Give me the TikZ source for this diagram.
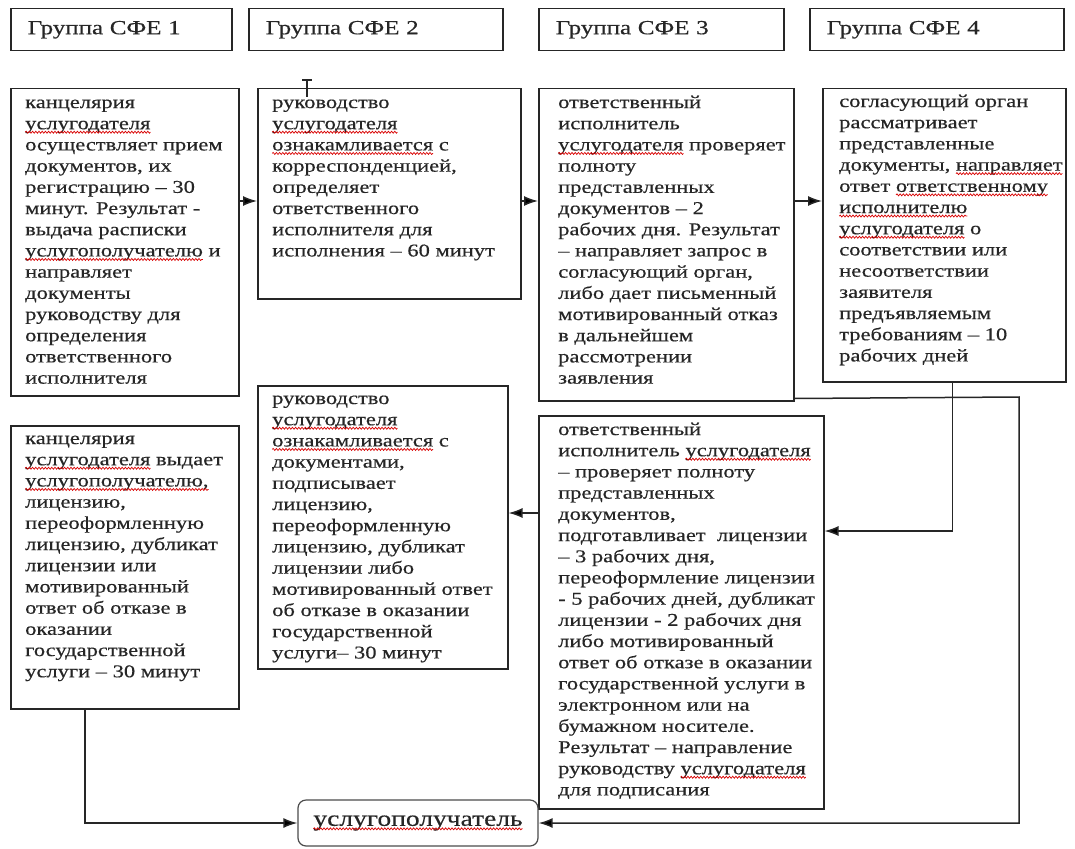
\documentclass[tikz,border=0pt]{standalone}
\usepackage{fontspec}
\setmainfont{Liberation Serif}[FakeStretch=1.25,FakeBold=0.4]
\usetikzlibrary{arrows.meta,calc,decorations.pathmorphing}
\newcommand\sperr[1]{\tikz[baseline=(w.base),sharp corners]{\node[inner sep=0pt,outer sep=0pt,minimum width=0pt,minimum height=0pt,anchor=base,align=left,draw=none,execute at begin node={}] (w) {#1};
  \draw[overlay,sharp corners,red!85!black,line width=0.7pt,decorate,decoration={snake,amplitude=1pt,segment length=3.2pt}] ([yshift=-3pt]w.base west) -- ([yshift=-3pt]w.base east);}}
\begin{document}
\begin{tikzpicture}[x=1pt,y=-1pt,
  box/.style={draw=black!85,line width=1.5pt,anchor=north west,inner sep=0pt},
  hdr/.style={box,align=left,inner xsep=17pt,inner ysep=0pt,font=\fontsize{20pt}{24pt}\selectfont,text=black!85},
  txt/.style={anchor=north west,inner sep=0pt,align=left,font=\fontsize{18pt}{21.2pt}\selectfont,text=black!85},
  arr/.style={draw=black!85,line width=1.5pt,-{Latex[length=14pt,width=10pt]}}]
\fill[white] (0,0) rectangle (1075,848);
\useasboundingbox (0,0) rectangle (1075,848);
% headers
\node[hdr,text width=187pt,minimum height=42pt] (h1) at (10,8) {Группа СФЕ 1};
\node[hdr,text width=220pt,minimum height=42pt] (h2) at (248,8) {Группа СФЕ 2};
\node[hdr,text width=211pt,minimum height=42pt] (h3) at (538,8) {Группа СФЕ 3};
\node[hdr,text width=220pt,minimum height=42pt] (h4) at (809,8) {Группа СФЕ 4};
% row 1 boxes
\node[box,minimum width=228pt,minimum height=307pt] (A) at (10,88) {};
\node[box,minimum width=263pt,minimum height=210pt] (B) at (257,88) {};
\node[box,minimum width=255pt,minimum height=312pt] (C) at (538,88) {};
\node[box,minimum width=243pt,minimum height=293pt] (D) at (822,88) {};
% row 2 boxes
\node[box,minimum width=228pt,minimum height=283pt] (E) at (10,425) {};
\node[box,minimum width=250pt,minimum height=283pt] (F) at (257,385) {};
\node[box,minimum width=285pt,minimum height=393pt] (G) at (538,415) {};
\node[draw=black!70,line width=1.2pt,rounded corners=8pt,minimum width=240pt,minimum height=46pt,
      font=\fontsize{22pt}{24pt}\selectfont,text=black!85] (U) at (418,823) {\sperr{услугополучатель}};
% texts
\node[txt] (tA) at ($(A.north west)+(15,5)$) {\strut канцелярия\\ \sperr{услугодателя}\\ осуществляет прием\\ документов, их\\ регистрацию – 30\\ минут. Результат -\\ выдача расписки\\ \sperr{услугополучателю} и\\ направляет\\ документы\\ руководству для\\ определения\\ ответственного\\ исполнителя};
\node[txt] (tB) at ($(B.north west)+(15,5)$) {\strut руководство\\ \sperr{услугодателя}\\ \sperr{ознакамливается} с\\ корреспонденцией,\\ определяет\\ ответственного\\ исполнителя для\\ исполнения – 60 минут};
\node[txt] (tC) at ($(C.north west)+(20,5)$) {\strut ответственный\\ исполнитель\\ \sperr{услугодателя} проверяет\\ полноту\\ представленных\\ документов – 2\\ рабочих дня. Результат\\ – направляет запрос в\\ согласующий орган,\\ либо дает письменный\\ мотивированный отказ\\ в дальнейшем\\ рассмотрении\\ заявления};
\node[txt] (tD) at ($(D.north west)+(17,4)$) {\strut согласующий орган\\ рассматривает\\ представленные\\ документы, \sperr{направляет}\\ ответ \sperr{ответственному}\\ \sperr{исполнителю}\\ \sperr{услугодателя} о\\ соответствии или\\ несоответствии\\ заявителя\\ предъявляемым\\ требованиям – 10\\ рабочих дней};
\node[txt] (tE) at ($(E.north west)+(15,4)$) {\strut канцелярия\\ \sperr{услугодателя} выдает\\ \sperr{услугополучателю,}\\ лицензию,\\ переоформленную\\ лицензию, дубликат\\ лицензии или\\ мотивированный\\ ответ об отказе в\\ оказании\\ государственной\\ услуги – 30 минут};
\node[txt] (tF) at ($(F.north west)+(15,4)$) {\strut руководство\\ \sperr{услугодателя}\\ \sperr{ознакамливается} с\\ документами,\\ подписывает\\ лицензию,\\ переоформленную\\ лицензию, дубликат\\ лицензии либо\\ мотивированный ответ\\ об отказе в оказании\\ государственной\\ услуги– 30 минут};
\node[txt] (tG) at ($(G.north west)+(20,5)$) {\strut ответственный\\ исполнитель \sperr{услугодателя}\\ – проверяет полноту\\ представленных\\ документов,\\ подготавливает~ лицензии\\ – 3 рабочих дня,\\ переоформление лицензии\\ - 5 рабочих дней, дубликат\\ лицензии - 2 рабочих дня\\ либо мотивированный\\ ответ об отказе в оказании\\ государственной услуги в\\ электронном или на\\ бумажном носителе.\\ Результат – направление\\ руководству \sperr{услугодателя}\\ для подписания};
% connectors
\coordinate (cr) at (1019,397);
\draw[arr] ([yshift=-113pt]A.north east) -- ([yshift=-113pt]B.north west);
\draw[arr] ([yshift=-113pt]B.north east) -- ([yshift=-113pt]C.north west);
\draw[arr] ([yshift=-113pt]C.north east) -- ([yshift=-113pt]D.north west);
\draw[arr] ([xshift=8pt]D.south) |- ([yshift=-116pt]G.north east);
\draw[arr] ([yshift=-98pt]G.north west) -- ([yshift=-128pt]F.north east);
\draw[arr] ([xshift=-40pt]E.south) |- (U.west);
\draw[arr] ([yshift=3pt]C.south east) -- (cr) |- (U.east);
% text cursor
\draw[black!85,line width=1.2pt] (302,80) -- (312,80) (307,80) -- (307,97);
\end{tikzpicture}
\end{document}
